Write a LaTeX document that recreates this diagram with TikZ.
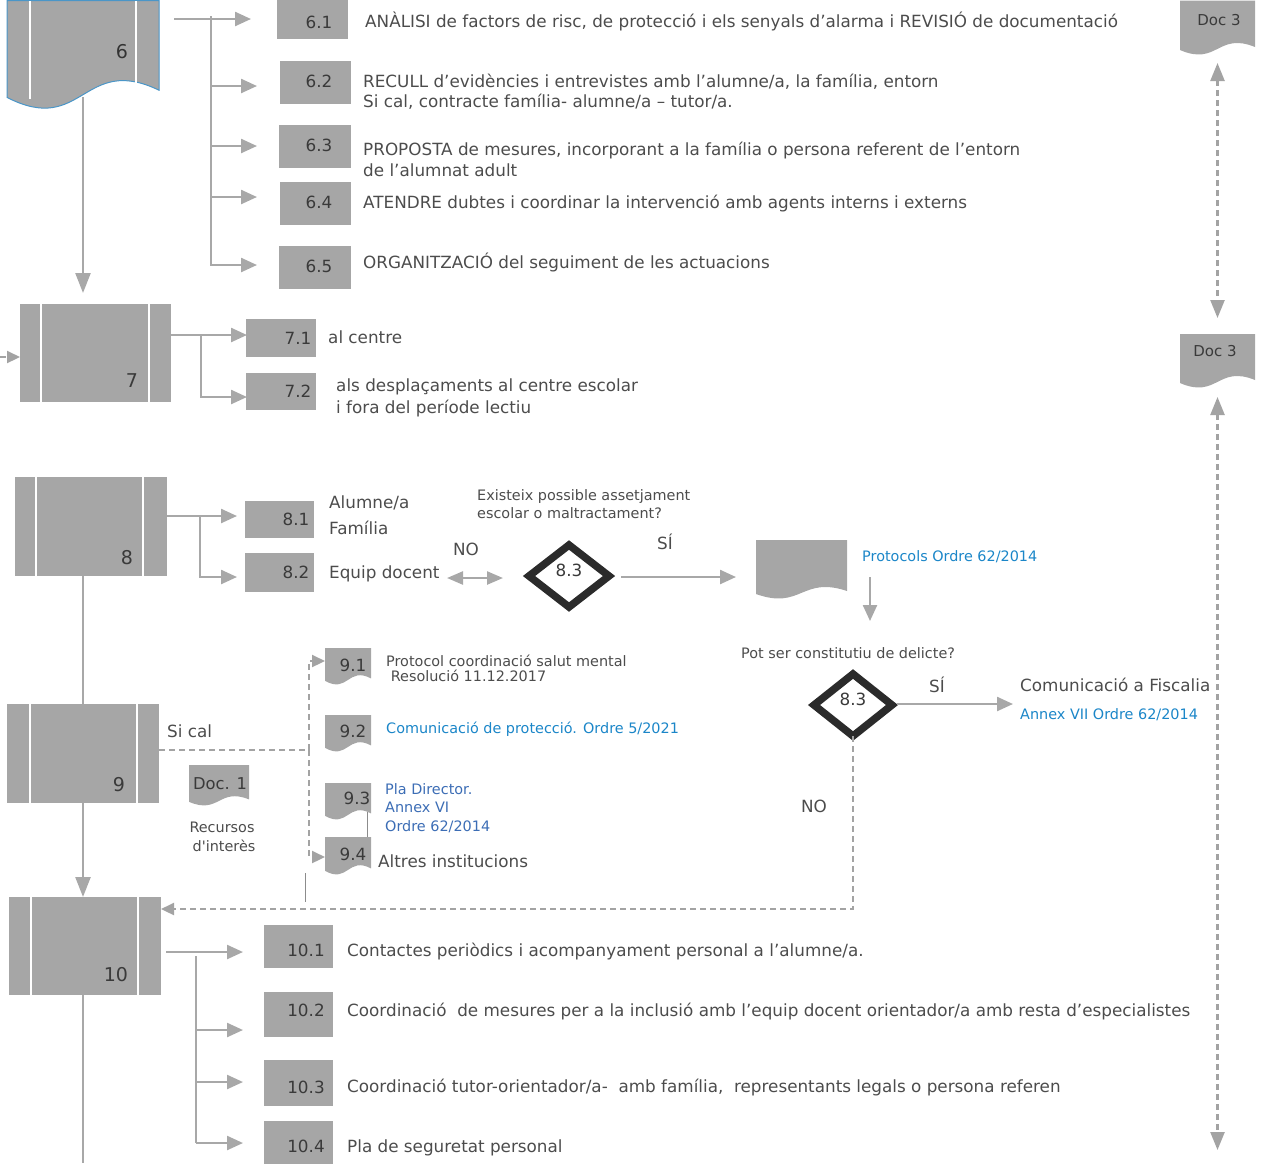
\documentclass[tikz,border=0pt]{standalone}
\usepackage{fontspec}
\setmainfont{DejaVu Sans}[Ligatures=TeXOff]
\usetikzlibrary{arrows.meta,fit,calc,shapes.geometric}
\definecolor{boxg}{HTML}{A6A6A6}
\definecolor{lineg}{HTML}{A8A8A8}
\definecolor{dashg}{HTML}{A3A3A3}
\definecolor{txtc}{HTML}{4C4C4C}
\definecolor{labc}{HTML}{3A3A3A}
\definecolor{linkb}{HTML}{1B86C8}
\definecolor{linkd}{HTML}{3C6DB5}
\definecolor{diac}{HTML}{2B2B2B}
\definecolor{edgeb}{HTML}{4A96C8}
\newcommand\fmain{\fontsize{16.8}{20}\selectfont}
\newcommand\fsmall{\fontsize{14.4}{17}\selectfont}
\newcommand\fdoc{\fontsize{15}{18}\selectfont}
\newcommand\fbig{\fontsize{19}{22}\selectfont}
\tikzset{
  sq/.style={fill=boxg, inner sep=0pt, outer sep=0pt, draw=none},
  conn/.style={draw=lineg, line width=2.4pt},
  arr/.style={conn, -{Triangle[length=16pt,width=14pt]}},
  bigarr/.style={conn, -{Triangle[length=20pt,width=15pt]}},
  darr/.style={draw=dashg, line width=2.2pt, dash pattern=on 6pt off 4pt},
  darrtip/.style={darr, -{Triangle[length=13pt,width=12pt]}},
  thinl/.style={draw=black!45, line width=0.8pt},
  txt/.style={anchor=base west, inner sep=0pt, text=txtc, font=\fmain},
  stxt/.style={anchor=base west, inner sep=0pt, text=txtc, font=\fsmall},
  btxt/.style={anchor=base west, inner sep=0pt, text=linkb, font=\fsmall},
  lab/.style={inner sep=0pt, text=labc, font=\fmain},
  plab/.style={inner sep=0pt, text=labc, font=\fbig},
  doclab/.style={inner sep=0pt, text=labc, font=\fdoc},
  dia/.style={diamond, draw=diac, line width=7.5pt, fill=white, inner sep=0pt, outer sep=0pt, line join=miter},
}
\newcommand\boxat[5]{\node[sq, fit={(#2,#3)(#4,#5)}] (#1) {};}
\newcommand\procbox[7]{%
  \node[sq, fit={(#2,#3)(#4,#5)}] (#1) {};
  \draw[white, line width=2.5pt] (#6,#3) -- (#6,#5) (#7,#3) -- (#7,#5);}
\newcommand\docshape[7][]{%
  \fill[boxg,#1] (#3,#4) -- (#5,#4) -- (#5,#6-0.4*#7) .. controls ({(#3+#5)/2},{#6-3.46*#7}) and ({(#3+#5)/2},{#6+3.46*#7}) .. (#3,#6+0.2*#7) -- cycle;
  \node[inner sep=0pt, outer sep=0pt, fit={(#3,#4)(#5,#6)}] (#2) {};}
\begin{document}
\begin{tikzpicture}[x=1pt,y=-1pt]
\useasboundingbox (0,0) rectangle (1287,1163);

% ---------- step 6 ----------
\docshape[draw=edgeb, line width=1pt]{n6}{7}{0.5}{159}{95}{12}
\draw[white, line width=2.5pt] (30,1) -- (30,99) (136,1) -- (136,84);
\node[plab, text=black!80] (n6l) at (122,52) {6};

\boxat{n61}{277}{0}{348}{39}
\boxat{n62}{280}{61}{351}{104}
\boxat{n63}{279}{125}{351}{168}
\boxat{n64}{280}{182}{351}{225}
\boxat{n65}{279}{246}{351}{289}
\node[lab] (n61l) at (319,22) {6.1};
\node[lab] (n62l) at (319,81) {6.2};
\node[lab] (n63l) at (319,145) {6.3};
\node[lab] (n64l) at (319,202) {6.4};
\node[lab] (n65l) at (319,266) {6.5};

\coordinate (s6) at (174,19);
\coordinate (t6) at (211,16);
\draw[arr] (s6) -- (251,19);
\draw[conn] (t6) -- (211,266);
\foreach \yy in {86,146,197,265} \draw[arr] (211,\yy) -- (257,\yy);

\node[txt] (t61) at (365,27) {ANÀLISI de factors de risc, de protecció i els senyals d’alarma i REVISIÓ de documentació};
\node[txt] (t62a) at (363,87) {RECULL d’evidències i entrevistes amb l’alumne/a, la família, entorn};
\node[txt] (t62b) at (363,107) {Si cal, contracte família- alumne/a – tutor/a.};
\node[txt] (t63a) at (363,155) {PROPOSTA de mesures, incorporant a la família o persona referent de l’entorn};
\node[txt] (t63b) at (363,176) {de l’alumnat adult};
\node[txt] (t64) at (363,208) {ATENDRE dubtes i coordinar la intervenció amb agents interns i externs};
\node[txt] (t65) at (363,268) {ORGANITZACIÓ del seguiment de les actuacions};

% Doc 3
\docshape{d3a}{1180}{0.5}{1255}{49}{5}
\node[doclab] (d3al) at (1219,20) {Doc 3};
\docshape{d3b}{1180}{334}{1255}{382}{5}
\node[doclab] (d3bl) at (1215,351) {Doc 3};
\coordinate (d3end) at (1217.5,1150);
\draw[darr, line width=2.4pt, {Triangle[length=18pt,width=14pt]}-{Triangle[length=18pt,width=14pt]}] (1217.5,63) -- (1217.5,318);
\draw[darr, line width=2.4pt, {Triangle[length=18pt,width=14pt]}-{Triangle[length=18pt,width=14pt]}] (1217.5,397) -- (d3end);

% ---------- step 7 ----------
\draw[bigarr] (83,97) -- (83,293);
\procbox{n7}{20}{304}{171}{402}{41}{149}
\node[plab] (n7l) at (132,381) {7};
\draw[darrtip] (0,357) -- (n7.west |- 0,357);
\boxat{n71}{246}{319}{316}{357}
\boxat{n72}{246}{373}{316}{410}
\node[lab] (n71l) at (298,338) {7.1};
\node[lab] (n72l) at (298,391) {7.2};
\draw[arr] (171,335) -- (247,335);
\draw[arr] (201,335) |- (247,397);
\node[txt] (t71) at (328,343) {al centre};
\node[txt] (t72a) at (336,391) {als desplaçaments al centre escolar};
\node[txt] (t72b) at (336,413) {i fora del període lectiu};

% ---------- step 8 ----------
\procbox{n8}{15}{477}{167}{576}{36}{143}
\node[plab] (n8l) at (127,558) {8};
\boxat{n81}{245}{501}{314}{538}
\boxat{n82}{245}{553}{314}{592}
\node[lab] (n81l) at (296,519) {8.1};
\node[lab] (n82l) at (296,572) {8.2};
\draw[arr] (167,516) -- (237,516);
\draw[arr] (200,516) |- (237,577);
\node[txt] (t81a) at (329,508) {Alumne/a};
\node[txt] (t81b) at (329,534) {Família};
\node[txt] (t82) at (329,578) {Equip docent};

\draw[conn, {Triangle[length=16pt,width=13pt]}-{Triangle[length=16pt,width=13pt]}] (447,578) -- (503,578);
\node[lab, text=txtc] (no1) at (466,549) {NO};
\node[stxt] (q1a) at (477,500) {Existeix possible assetjament};
\node[stxt] (q1b) at (477,518) {escolar o maltractament?};
\node[dia, minimum width=80pt, minimum height=62pt] (q1) at (569,576) {};
\node[lab] (q1l) at (569,570) {8.3};
\node[lab, text=txtc] (si1) at (665,542) {SÍ};
\draw[arr] (621,577) -- (736,577);
\docshape{dp}{756}{540}{847}{593}{5}
\node[btxt] (tp) at (862,561) {Protocols Ordre 62/2014};
\draw[arr] (870,577) -- (870,621);

\node[stxt] (q2a) at (741,658) {Pot ser constitutiu de delicte?};
\node[dia, minimum width=78pt, minimum height=62pt] (q2) at (853,705) {};
\node[lab] (q2l) at (853,699) {8.3};
\node[lab, text=txtc] (si2) at (937,685) {SÍ};
\draw[arr] (897,704) -- (1013,704);
\node[txt] (tf) at (1020,691) {Comunicació a Fiscalia};
\node[btxt] (tfa) at (1020,719) {Annex VII Ordre 62/2014};
\node[lab, text=txtc] (no2) at (814,806) {NO};

% ---------- step 9 ----------
\draw[conn] (83,576) -- (83,704);
\procbox{n9}{7}{704}{159}{803}{30}{137}
\node[plab] (n9l) at (119,785) {9};
\node[txt] (sical) at (167,737) {Si cal};
\docshape{doc1}{189}{765}{249}{801}{4}
\node[doclab, font=\fontsize{16.3}{19}\selectfont] (doc1l) at (220,784) {Doc. 1};
\node[stxt, anchor=base] (rec1) at (222,832) {Recursos};
\node[stxt, anchor=base] (rec2) at (224,851) {d'interès};

\coordinate (j9) at (309,750);
\draw[darr] (n9.east |- j9) -- (j9);
\draw[darrtip] (j9) |- (325,661);
\draw[darrtip] (j9) |- (325,857);

\docshape{n91}{325}{648}{371}{680}{4}
\docshape{n92}{325}{715}{371}{747}{4}
\docshape{n93}{325}{783}{371}{815}{4}
\docshape{n94}{325}{837}{371}{870}{4}
\node[lab] (n91l) at (353,665) {9.1};
\node[lab] (n92l) at (353,731) {9.2};
\node[lab] (n93l) at (357,798) {9.3};
\node[lab] (n94l) at (353,854) {9.4};
\draw[thinl] (367,812) -- (367,837);
\draw[thinl] (305,873) -- (305,902);

\node[stxt] (t91a) at (386,666) {Protocol coordinació salut mental};
\node[stxt] (t91b) at (386,681) {\ Resolució 11.12.2017};
\node[btxt] (t92) at (386,733) {Comunicació de protecció. Ordre 5/2021};
\node[btxt, text=linkd] (t93a) at (385,794) {Pla Director.};
\node[btxt, text=linkd] (t93b) at (385,812) {Annex VI};
\node[btxt, text=linkd] (t93c) at (385,831) {Ordre 62/2014};
\node[txt] (t94) at (378,867) {Altres institucions};

% ---------- step 10 ----------
\draw[bigarr] (83,803) -- (83,897);
\procbox{n10}{9}{897}{161}{995}{31}{138}
\node[plab] (n10l) at (116,975) {10};
\draw[darrtip] (q2.south) |- (n10.east |- 0,909);
\draw[conn] (83,995) -- (83,1163);

\boxat{n101}{264}{925}{333}{968}
\boxat{n102}{264}{992}{333}{1037}
\boxat{n103}{264}{1060}{333}{1106}
\boxat{n104}{264}{1121}{333}{1164}
\node[lab] (n101l) at (306,950) {10.1};
\node[lab] (n102l) at (306,1010) {10.2};
\node[lab] (n103l) at (306,1087) {10.3};
\node[lab] (n104l) at (306,1146) {10.4};
\draw[arr] (166,952) -- (243,952);
\draw[conn] (196,956) -- (196,1143);
\foreach \yy in {1030,1082,1143} \draw[arr] (196,\yy) -- (243,\yy);

\node[txt] (t101) at (347,956) {Contactes periòdics i acompanyament personal a l’alumne/a.};
\node[txt] (t102) at (347,1016) {Coordinació\ \ de mesures per a la inclusió amb l’equip docent orientador/a amb resta d’especialistes};
\node[txt] (t103) at (347,1092) {Coordinació tutor-orientador/a-\ \ amb família,\ \ representants legals o persona referen};
\node[txt] (t104) at (347,1152) {Pla de seguretat personal};
\end{tikzpicture}
\end{document}
